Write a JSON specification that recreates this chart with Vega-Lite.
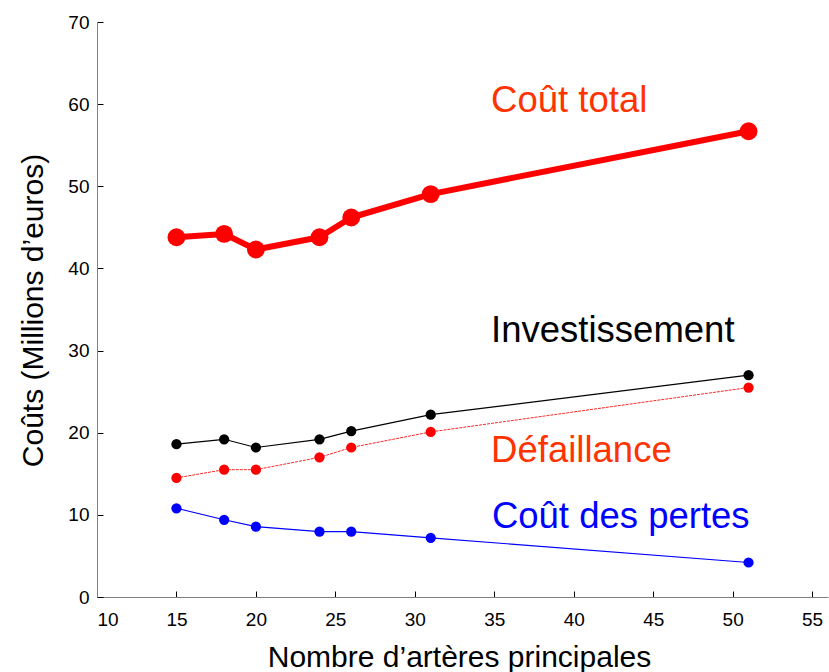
{
  "$schema": "https://vega.github.io/schema/vega-lite/v6.json",
  "width": 731,
  "height": 575,
  "autosize": {"type": "none"},
  "padding": {"left": 97, "top": 22, "right": 1, "bottom": 75},
  "background": "white",
  "config": {
    "view": {"stroke": null},
    "font": "Liberation Sans",
    "axis": {
      "grid": false,
      "domainColor": "#808080",
      "domainWidth": 1,
      "tickColor": "#000000",
      "tickWidth": 1,
      "tickSize": -6,
      "labelFont": "Liberation Sans",
      "labelFontSize": 19,
      "labelColor": "#000000",
      "titleFont": "Liberation Sans",
      "titleFontSize": 30,
      "titleFontWeight": "normal",
      "titleColor": "#000000"
    }
  },
  "datasets": {
    "series": [
      {"x": 15, "y": 43.8, "serie": "total"},
      {"x": 18, "y": 44.2, "serie": "total"},
      {"x": 20, "y": 42.3, "serie": "total"},
      {"x": 24, "y": 43.8, "serie": "total"},
      {"x": 26, "y": 46.2, "serie": "total"},
      {"x": 31, "y": 49.05, "serie": "total"},
      {"x": 51, "y": 56.7, "serie": "total"},
      {"x": 15, "y": 18.6, "serie": "investissement"},
      {"x": 18, "y": 19.2, "serie": "investissement"},
      {"x": 20, "y": 18.2, "serie": "investissement"},
      {"x": 24, "y": 19.2, "serie": "investissement"},
      {"x": 26, "y": 20.2, "serie": "investissement"},
      {"x": 31, "y": 22.2, "serie": "investissement"},
      {"x": 51, "y": 27.0, "serie": "investissement"},
      {"x": 15, "y": 14.5, "serie": "defaillance"},
      {"x": 18, "y": 15.5, "serie": "defaillance"},
      {"x": 20, "y": 15.5, "serie": "defaillance"},
      {"x": 24, "y": 17.0, "serie": "defaillance"},
      {"x": 26, "y": 18.2, "serie": "defaillance"},
      {"x": 31, "y": 20.1, "serie": "defaillance"},
      {"x": 51, "y": 25.5, "serie": "defaillance"},
      {"x": 15, "y": 10.8, "serie": "pertes"},
      {"x": 18, "y": 9.4, "serie": "pertes"},
      {"x": 20, "y": 8.56, "serie": "pertes"},
      {"x": 24, "y": 7.95, "serie": "pertes"},
      {"x": 26, "y": 7.95, "serie": "pertes"},
      {"x": 31, "y": 7.2, "serie": "pertes"},
      {"x": 51, "y": 4.2, "serie": "pertes"}
    ],
    "labels": [
      {"x": 34.8, "y": 59.05, "label": "Coût total"},
      {"x": 34.8, "y": 31.04, "label": "Investissement"},
      {"x": 34.8, "y": 16.44, "label": "Défaillance"},
      {"x": 34.85, "y": 8.4, "label": "Coût des pertes"}
    ]
  },
  "encoding": {
    "x": {
      "field": "x",
      "type": "quantitative",
      "scale": {"domain": [10, 56], "nice": false, "zero": false},
      "axis": {
        "values": [10, 15, 20, 25, 30, 35, 40, 45, 50, 55],
        "labelPadding": 19,
        "title": "Nombre d’artères principales",
        "titleX": 362,
        "titleY": 69,
        "titleAnchor": "middle",
        "titleAlign": "center",
        "titleBaseline": "alphabetic"
      }
    },
    "y": {
      "field": "y",
      "type": "quantitative",
      "scale": {"domain": [0, 70], "nice": false},
      "axis": {
        "values": [0, 10, 20, 30, 40, 50, 60, 70],
        "labelPadding": 14,
        "title": "Coûts (Millions d’euros)",
        "titleX": -55,
        "titleY": 288,
        "titleAngle": 270,
        "titleAlign": "center",
        "titleBaseline": "alphabetic"
      }
    }
  },
  "layer": [
    {
      "data": {"name": "series"},
      "transform": [{"filter": "datum.serie === 'investissement'"}],
      "mark": {"type": "line", "color": "#000000", "strokeWidth": 1.2},
      "encoding": {}
    },
    {
      "data": {"name": "series"},
      "transform": [{"filter": "datum.serie === 'defaillance'"}],
      "mark": {"type": "line", "color": "#ff0000", "strokeWidth": 1, "strokeDash": [3, 1], "opacity": 0.85},
      "encoding": {}
    },
    {
      "data": {"name": "series"},
      "transform": [{"filter": "datum.serie === 'pertes'"}],
      "mark": {"type": "line", "color": "#0000ff", "strokeWidth": 1.2},
      "encoding": {}
    },
    {
      "data": {"name": "series"},
      "transform": [{"filter": "datum.serie !== 'total'"}],
      "mark": {"type": "circle", "size": 105, "opacity": 1},
      "encoding": {
        "color": {
          "field": "serie",
          "type": "nominal",
          "scale": {"domain": ["investissement", "defaillance", "pertes"], "range": ["#000000", "#ff0000", "#0000ff"]},
          "legend": null
        }
      }
    },
    {
      "data": {"name": "series"},
      "transform": [{"filter": "datum.serie === 'total'"}],
      "mark": {"type": "line", "color": "#ff0000", "strokeWidth": 6, "strokeJoin": "round"},
      "encoding": {}
    },
    {
      "data": {"name": "series"},
      "transform": [{"filter": "datum.serie === 'total'"}],
      "mark": {"type": "circle", "size": 320, "color": "#ff0000", "opacity": 1},
      "encoding": {}
    },
    {
      "data": {"name": "labels"},
      "mark": {"type": "text", "align": "left", "baseline": "alphabetic", "fontSize": 36.5, "font": "Liberation Sans"},
      "encoding": {
        "text": {"field": "label"},
        "color": {
          "field": "label",
          "type": "nominal",
          "scale": {"domain": ["Coût total", "Investissement", "Défaillance", "Coût des pertes"], "range": ["#ff3300", "#000000", "#ff3300", "#0000ff"]},
          "legend": null
        }
      }
    }
  ],
  "resolve": {"scale": {"color": "independent"}}
}
